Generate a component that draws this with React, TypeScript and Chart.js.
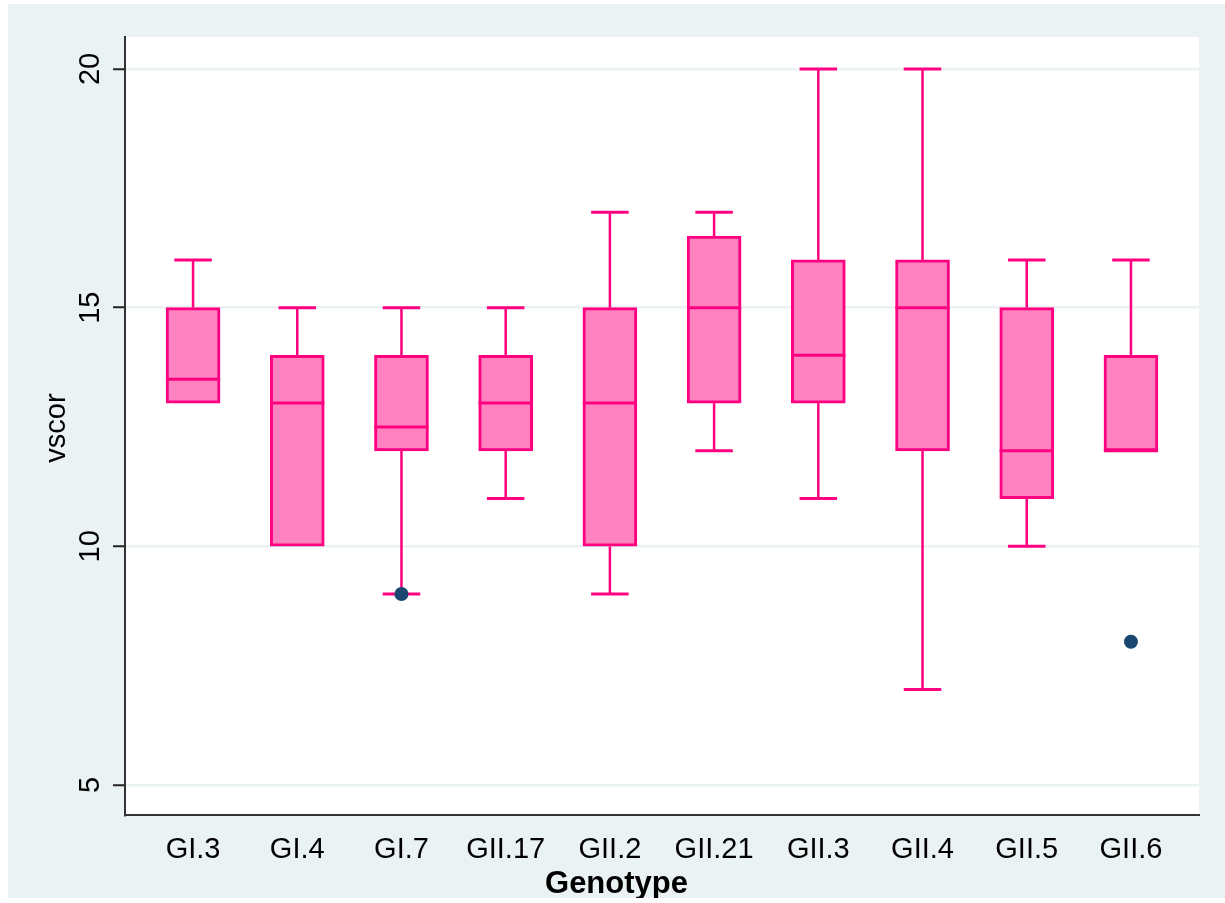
import React, { useEffect, useRef } from "react";
import { Chart, registerables } from "chart.js";

Chart.register(...registerables);

const categories = ["GI.3", "GI.4", "GI.7", "GII.17", "GII.2", "GII.21", "GII.3", "GII.4", "GII.5", "GII.6"];
const whiskerLow = [13, 10, 9, 11, 9, 12, 11, 7, 10, 12];
const q1 = [13, 10, 12, 12, 10, 13, 13, 12, 11, 12];
const median = [13.5, 13, 12.5, 13, 13, 15, 14, 15, 12, 12];
const q3 = [15, 14, 14, 14, 15, 16.5, 16, 16, 15, 14];
const whiskerHigh = [16, 15, 15, 15, 17, 17, 20, 20, 16, 16];
const outlierCategories = ["GI.7", "GII.6"];
const outlierValues = [9, 8];
const yTicks = [5, 10, 15, 20];
const xTitle = "Genotype";
const yTitle = "vscor";

const BOX_FILL = "rgb(255,130,192)";
const BOX_LINE = "rgb(255,0,128)";
const DOT = "rgb(26,71,111)";
const BG = "rgb(234,242,243)";
const FONT = "'Liberation Sans', Arial, sans-serif";

const boxPlugin = {
  id: "boxExtras",
  beforeDraw(chart: any) {
    const { ctx, chartArea } = chart;
    ctx.save();
    ctx.fillStyle = "#ffffff";
    ctx.fillRect(chartArea.left, chartArea.top, chartArea.right - chartArea.left, chartArea.bottom - chartArea.top);
    ctx.restore();
  },
  beforeDatasetsDraw(chart: any) {
    const { ctx } = chart;
    const xs = chart.scales.x;
    const ys = chart.scales.y;
    ctx.save();
    ctx.strokeStyle = BOX_LINE;
    categories.forEach((_, i) => {
      const cx = xs.getPixelForValue(i);
      const half = xs.getPixelForValue(i + 0.18) - cx;
      const pairs = [
        [q3[i], whiskerHigh[i]],
        [q1[i], whiskerLow[i]],
      ];
      pairs.forEach(([from, to]) => {
        if (from === to) return;
        const y0 = ys.getPixelForValue(from);
        const y1 = ys.getPixelForValue(to);
        ctx.lineWidth = 2.5;
        ctx.beginPath();
        ctx.moveTo(cx, y0);
        ctx.lineTo(cx, y1);
        ctx.stroke();
        ctx.lineWidth = 3;
        ctx.beginPath();
        ctx.moveTo(cx - half, y1);
        ctx.lineTo(cx + half, y1);
        ctx.stroke();
      });
    });
    ctx.restore();
  },
  afterDatasetsDraw(chart: any) {
    const { ctx, chartArea } = chart;
    const xs = chart.scales.x;
    const ys = chart.scales.y;
    ctx.save();
    ctx.strokeStyle = BOX_LINE;
    ctx.lineWidth = 3;
    categories.forEach((_, i) => {
      const cx = xs.getPixelForValue(i);
      const half = xs.getPixelForValue(i + 0.26) - cx;
      const y = ys.getPixelForValue(median[i]);
      ctx.beginPath();
      ctx.moveTo(cx - half, y);
      ctx.lineTo(cx + half, y);
      ctx.stroke();
    });
    // x tick labels
    ctx.fillStyle = "#000";
    ctx.font = `29px ${FONT}`;
    ctx.textAlign = "center";
    ctx.textBaseline = "alphabetic";
    categories.forEach((c, i) => {
      ctx.fillText(c, xs.getPixelForValue(i), chartArea.bottom + 43);
    });
    // y tick labels (rotated)
    yTicks.forEach((v) => {
      const y = ys.getPixelForValue(v);
      ctx.save();
      ctx.translate(chartArea.left - 26, y);
      ctx.rotate(-Math.PI / 2);
      ctx.textAlign = "center";
      ctx.textBaseline = "alphabetic";
      ctx.fillText(String(v), 0, 0);
      ctx.restore();
    });
    // y title
    ctx.save();
    ctx.translate(chartArea.left - 60, (chartArea.top + chartArea.bottom) / 2 + 2);
    ctx.rotate(-Math.PI / 2);
    ctx.textAlign = "center";
    ctx.fillText(yTitle, 0, 0);
    ctx.restore();
    // x title
    ctx.font = `bold 31px ${FONT}`;
    ctx.textAlign = "center";
    ctx.fillText(xTitle, chart.width / 2, chartArea.bottom + 78);
    ctx.restore();
  },
};

export default function App() {
  const ref = useRef<HTMLCanvasElement>(null);
  useEffect(() => {
    if (!ref.current) return;
    const boxes = categories.map((_, i) => ({ x: i, y: [q1[i], q3[i]] }));
    const dots = outlierCategories.map((c, k) => ({ x: categories.indexOf(c), y: outlierValues[k] }));
    const chart = new Chart(ref.current, {
      type: "bar",
      data: {
        datasets: [
          {
            type: "bar",
            data: boxes as any,
            backgroundColor: BOX_FILL,
            borderColor: BOX_LINE,
            borderWidth: 3,
            borderSkipped: false,
            barThickness: 54,
            order: 2,
          } as any,
          {
            type: "scatter",
            data: dots as any,
            backgroundColor: DOT,
            borderWidth: 0,
            pointRadius: 7,
            order: 1,
          } as any,
        ],
      },
      options: {
        responsive: false,
        animation: false,
        devicePixelRatio: 1,
        layout: { padding: { left: 105, top: 33, right: 26, bottom: 83 } },
        plugins: { legend: { display: false }, tooltip: { enabled: false } },
        scales: {
          x: {
            type: "linear",
            offset: false,
            min: -0.653,
            max: 9.653,
            grid: { display: false, drawTicks: false, offset: false },
            border: { display: true, color: "#333", width: 2 },
            ticks: { display: false },
          },
          y: {
            type: "linear",
            min: 4.37,
            max: 20.67,
            afterBuildTicks: (s: any) => {
              s.ticks = yTicks.map((v) => ({ value: v }));
            },
            grid: {
              color: BG,
              lineWidth: 2.5,
              drawTicks: true,
              tickLength: 12,
              tickColor: "#222",
              tickWidth: 2,
            },
            border: { display: true, color: "#333", width: 2 },
            ticks: { display: false },
          },
        },
      },
      plugins: [boxPlugin],
    });
    return () => chart.destroy();
  }, []);
  return (
    <div style={{ position: "fixed", left: 8, top: 4, width: 1217, height: 894, background: BG }}>
      <canvas ref={ref} width={1217} height={894} style={{ display: "block" }} />
    </div>
  );
}
